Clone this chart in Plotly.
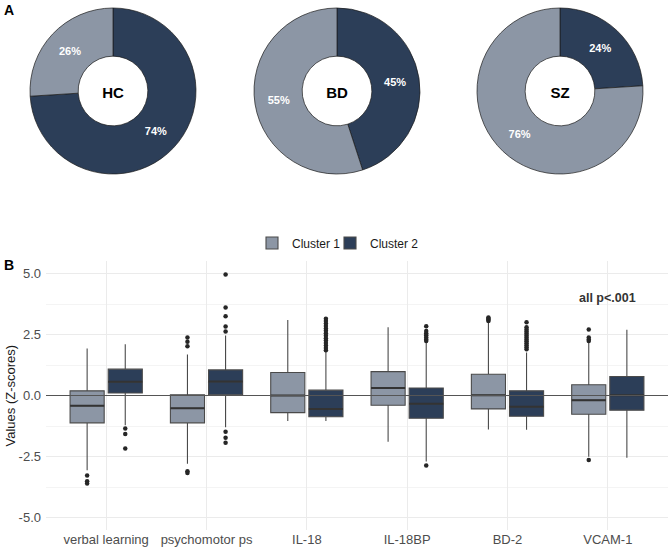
import plotly.graph_objects as go

# ---------------- data ----------------
groups = ["HC", "BD", "SZ"]
pie_labels = ["Cluster 2", "Cluster 1"]
pie_cluster2 = [74, 45, 24]
pie_cluster1 = [26, 55, 76]

categories = ["verbal learning", "psychomotor ps", "IL-18", "IL-18BP", "BD-2", "VCAM-1"]

c1_q1 = [-1.12, -1.12, -0.70, -0.40, -0.55, -0.77]
c1_median = [-0.42, -0.52, 0.00, 0.31, 0.01, -0.19]
c1_q3 = [0.19, 0.03, 0.94, 0.98, 0.87, 0.44]
c1_low = [-3.06, -2.80, -1.05, -1.90, -1.39, -2.51]
c1_high = [1.93, 1.68, 3.09, 2.80, 3.00, 2.17]

c2_q1 = [0.10, 0.03, -0.87, -0.93, -0.85, -0.60]
c2_median = [0.56, 0.57, -0.55, -0.34, -0.46, 0.01]
c2_q3 = [1.08, 1.05, 0.22, 0.31, 0.19, 0.78]
c2_low = [-1.22, -1.30, -1.05, -2.71, -1.40, -2.55]
c2_high = [2.10, 2.46, 1.79, 2.16, 1.76, 2.69]

c1_outliers = [
    [-3.28, -3.51, -3.61],
    [2.38, 2.20, 2.02, -3.10, -3.18],
    [],
    [],
    [3.05, 3.10, 3.15, 3.20],
    [2.23, 2.30, 2.38, 2.70, -2.64],
]
c2_outliers = [
    [-1.35, -1.58, -2.17],
    [4.96, 3.61, 3.25, 2.83, 2.62, -1.49, -1.73, -1.94],
    [1.85, 1.95, 2.05, 2.15, 2.25, 2.35, 2.45, 2.55, 2.65, 2.75, 2.85, 2.95, 3.05, 3.15],
    [2.23, 2.30, 2.38, 2.47, 2.55, 2.64, 2.84, -2.87],
    [1.90, 1.98, 2.06, 2.14, 2.22, 2.30, 2.38, 2.46, 2.54, 2.62, 2.70, 2.80, 3.00],
    [],
]

y_ticks = [-5.0, -2.5, 0.0, 2.5, 5.0]

# ---------------- style ----------------
W, H = 670, 547
LIGHT = "#8C96A5"
DARK = "#2C3E58"
FONT = "Liberation Sans, Arial, sans-serif"
OFF = 0.19
BW = 0.34


def px(x):
    return x / W


def py(y):
    return 1 - y / H


fig = go.Figure()

# ---- donuts ----
pie_x = [(30, 196), (254, 420), (477, 643)]
pie_top, pie_bot = 8, 174
for g, v2, v1, (x0, x1) in zip(groups, pie_cluster2, pie_cluster1, pie_x):
    fig.add_trace(go.Pie(
        labels=pie_labels, values=[v2, v1], sort=False, direction="clockwise", rotation=0,
        hole=0.42,
        marker=dict(colors=[DARK, LIGHT], line=dict(color="#1a1a1a", width=0.7)),
        texttemplate="<b>%{value}%</b>", textposition="inside",
        insidetextorientation="horizontal",
        textfont=dict(color="white", size=11, family=FONT),
        title=dict(text="<b>" + g + "</b>", position="middle center",
                   font=dict(size=15, color="black", family=FONT)),
        domain=dict(x=[px(x0), px(x1)], y=[py(pie_bot), py(pie_top)]),
        showlegend=False, hoverinfo="skip",
    ))

# ---- boxes ----
xpos = list(range(len(categories)))
for name, col, sgn, q1, med, q3, lo, hi, outs, leg in [
    ("Cluster 1", LIGHT, -1, c1_q1, c1_median, c1_q3, c1_low, c1_high, c1_outliers, "legend"),
    ("Cluster 2", DARK, 1, c2_q1, c2_median, c2_q3, c2_low, c2_high, c2_outliers, "legend2"),
]:
    bx = [i + sgn * OFF for i in xpos]
    fig.add_trace(go.Box(
        name=name, x=bx, q1=q1, median=med, q3=q3, lowerfence=lo, upperfence=hi,
        width=BW, whiskerwidth=0, fillcolor=col,
        line=dict(color="#4a4a4a", width=1.1), boxpoints=False,
        showlegend=True, legend=leg, xaxis="x", yaxis="y",
    ))
    mx, my = [], []
    for xc, m in zip(bx, med):
        mx += [xc - BW / 2, xc + BW / 2, None]
        my += [m, m, None]
    fig.add_trace(go.Scatter(x=mx, y=my, mode="lines", line=dict(color="#333333", width=2),
                             showlegend=False, hoverinfo="skip"))
    ox, oy = [], []
    for xc, vals in zip(bx, outs):
        ox += [xc] * len(vals)
        oy += vals
    fig.add_trace(go.Scatter(x=ox, y=oy, mode="markers",
                             marker=dict(color="#262626", size=4.5),
                             showlegend=False, hoverinfo="skip"))

fig.add_shape(type="line", xref="x domain", yref="y", x0=0, x1=1, y0=0, y1=0,
              line=dict(color="#555555", width=1.1), layer="above")

legend_common = dict(orientation="h", xanchor="left", y=py(243), yanchor="middle",
                     font=dict(size=12, color="#1a1a1a", family=FONT), itemwidth=30,
                     bgcolor="rgba(0,0,0,0)")

fig.update_layout(
    width=W, height=H,
    margin=dict(l=0, r=0, t=0, b=0),
    paper_bgcolor="white", plot_bgcolor="white",
    font=dict(family=FONT, color="#333333"),
    boxmode="overlay",
    legend=dict(x=px(252), **legend_common),
    legend2=dict(x=px(330), **legend_common),
    xaxis=dict(domain=[px(46), px(668)], range=[-0.6, 5.6], tickvals=xpos, ticktext=categories,
               showgrid=True, gridcolor="#EBEBEB", gridwidth=1, zeroline=False, ticks="",
               tickfont=dict(size=13, color="#4D4D4D"), anchor="y", showline=False),
    yaxis=dict(domain=[py(529.7), py(261.3)], range=[-5.5, 5.5],
               tickvals=y_ticks, ticktext=[f"{v:.1f}" for v in y_ticks],
               showgrid=True, gridcolor="#EBEBEB", gridwidth=1, zeroline=False, ticks="",
               minor=dict(tickvals=[-3.75, -1.25, 1.25, 3.75], showgrid=True,
                          gridcolor="#F4F4F4", gridwidth=0.6),
               tickfont=dict(size=13, color="#4D4D4D"), ticklabelstandoff=4, anchor="x"),
    annotations=[
        dict(text="<b>A</b>", x=px(2), y=py(10), xref="paper", yref="paper",
             xanchor="left", yanchor="middle", showarrow=False,
             font=dict(size=14, color="black", family=FONT)),
        dict(text="<b>B</b>", x=px(2), y=py(264.5), xref="paper", yref="paper",
             xanchor="left", yanchor="middle", showarrow=False,
             font=dict(size=14, color="black", family=FONT)),
        dict(text="Values (Z-scores)", x=px(10), y=py(395.5), xref="paper", yref="paper",
             xanchor="center", yanchor="middle", textangle=-90, showarrow=False,
             font=dict(size=13, color="#1a1a1a", family=FONT)),
        dict(text="<b>all p<.001</b>", x=5, y=4.0, xref="x", yref="y",
             xanchor="center", yanchor="middle", showarrow=False,
             font=dict(size=12.5, color="#333333", family=FONT)),
    ],
)

fig.write_html("out.html", config={"displayModeBar": False},
               post_script="document.body.style.margin='0px';")
